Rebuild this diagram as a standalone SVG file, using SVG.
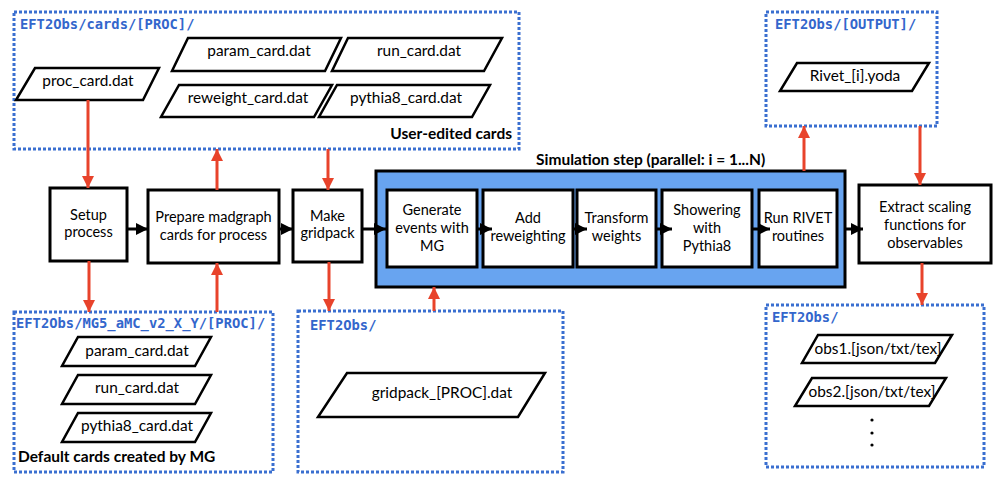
<svg xmlns="http://www.w3.org/2000/svg" width="999" height="477" viewBox="0 0 999 477">
<defs>
<style>
.dir{fill:none;stroke:#3a6fd0;stroke-width:3;stroke-dasharray:3 2}
.lbl{font-family:"DejaVu Sans Mono","Liberation Mono",monospace;font-weight:bold;font-size:13.8px;fill:#3366cc}
.box{fill:#fff;stroke:#000;stroke-width:3}
.card{fill:#fff;stroke:#000;stroke-width:2.5;stroke-linejoin:miter}
.t{font-family:Lato,"Open Sans",sans-serif;font-size:14.5px;fill:#000;text-anchor:middle}
.ct{font-family:Lato,"Open Sans",sans-serif;font-size:15.4px;fill:#000;text-anchor:middle}
.b{font-family:Lato,"Open Sans",sans-serif;font-weight:bold;font-size:15.5px;fill:#000}
.red{fill:none;stroke:#e8432b;stroke-width:3;marker-end:url(#ra)}
.blk{fill:none;stroke:#000;stroke-width:3;marker-end:url(#ba)}
</style>
<marker id="ra" markerUnits="userSpaceOnUse" markerWidth="12" markerHeight="12" refX="12" refY="6" orient="auto"><path d="M0,0 L12,6 L0,12 Z" fill="#e8432b"/></marker>
<marker id="ba" markerUnits="userSpaceOnUse" markerWidth="12" markerHeight="12" refX="12" refY="6" orient="auto"><path d="M0,0 L12,6 L0,12 Z" fill="#000"/></marker>
</defs>
<rect width="999" height="477" fill="#fff"/>

<g id="user-cards">
<rect class="dir" x="14" y="12" width="505" height="137"/>
<text class="lbl" x="20" y="29">EFT2Obs/cards/[PROC]/</text>
<polygon class="card" points="35,68 159,68 143,100 16,100"/>
<text class="ct" x="88" y="86">proc_card.dat</text>
<polygon class="card" points="188,38 341,38 325,71 172,71"/>
<text class="ct" x="259" y="56">param_card.dat</text>
<polygon class="card" points="348,38 502,38 484,71 332,71"/>
<text class="ct" x="419" y="56">run_card.dat</text>
<polygon class="card" points="179,85 332,85 314,117 161,117"/>
<text class="ct" x="248" y="103">reweight_card.dat</text>
<polygon class="card" points="337,85 490,85 472,117 319,117"/>
<text class="ct" x="406" y="103">pythia8_card.dat</text>
<text class="b" x="512" y="139" text-anchor="end">User-edited cards</text>
</g>

<g id="output-dir">
<rect class="dir" x="766" y="12" width="171" height="114"/>
<text class="lbl" x="775" y="29">EFT2Obs/[OUTPUT]/</text>
<polygon class="card" points="797,63 929,63 912,91 780,91"/>
<text class="ct" x="855" y="81" font-size="15">Rivet_[i].yoda</text>
</g>

<g id="default-cards">
<rect class="dir" x="14" y="312" width="259" height="160"/>
<text class="lbl" x="16" y="328">EFT2Obs/MG5_aMC_v2_X_Y/[PROC]/</text>
<polygon class="card" points="78,337 211,337 195,366 62,366"/>
<text class="ct" x="137" y="356" font-size="14">param_card.dat</text>
<polygon class="card" points="78,375 211,375 195,404 62,404"/>
<text class="ct" x="137" y="393" font-size="14">run_card.dat</text>
<polygon class="card" points="78,413 211,413 195,442 62,442"/>
<text class="ct" x="137" y="431" font-size="14">pythia8_card.dat</text>
<text class="b" x="18" y="462">Default cards created by MG</text>
</g>

<g id="gridpack-dir">
<rect class="dir" x="298" y="311" width="265" height="161"/>
<text class="lbl" x="310" y="330">EFT2Obs/</text>
<polygon class="card" points="347,373 545,373 518,417 318,417"/>
<text class="ct" x="442" y="398" font-size="16.3">gridpack_[PROC].dat</text>
</g>

<g id="obs-dir">
<rect class="dir" x="766" y="305" width="218" height="162"/>
<text class="lbl" x="772" y="322">EFT2Obs/</text>
<polygon class="card" points="818,335 952,335 935,363 802,363"/>
<text class="ct" x="878" y="354" font-size="11.8">obs1.[json/txt/tex]</text>
<polygon class="card" points="812,378 946,378 929,406 795,406"/>
<text class="ct" x="872" y="397" font-size="11.8">obs2.[json/txt/tex]</text>
<circle cx="872" cy="420" r="1.6"/>
<circle cx="872" cy="433" r="1.6"/>
<circle cx="872" cy="445" r="1.6"/>
</g>

<g id="setup">
<rect class="box" x="50" y="188" width="77" height="73"/>
<text class="t" x="88.5" y="220">Setup</text>
<text class="t" x="88.5" y="237">process</text>
</g>
<g id="prepare">
<rect class="box" x="148" y="190" width="131" height="73"/>
<text class="t" x="213.5" y="222">Prepare madgraph</text>
<text class="t" x="213.5" y="240">cards for process</text>
</g>
<g id="gridpack">
<rect class="box" x="293" y="190" width="69" height="72"/>
<text class="t" x="327.5" y="221">Make</text>
<text class="t" x="327.5" y="238">gridpack</text>
</g>

<g id="simulation">
<rect x="376" y="171" width="469" height="116" fill="#68a4f0" stroke="#000" stroke-width="3"/>
<text class="b" x="536" y="165" font-size="15">Simulation step (parallel: i = 1...N)</text>
</g>
<g id="generate">
<rect class="box" x="387" y="190" width="90" height="77"/>
<text class="t" x="432" y="215">Generate</text>
<text class="t" x="432" y="233">events with</text>
<text class="t" x="432" y="251">MG</text>
</g>
<g id="reweight">
<rect class="box" x="483" y="190" width="90" height="77"/>
<text class="t" x="528" y="223">Add</text>
<text class="t" x="528" y="241">reweighting</text>
</g>
<g id="transform">
<rect class="box" x="577" y="190" width="79" height="77"/>
<text class="t" x="616.5" y="223">Transform</text>
<text class="t" x="616.5" y="241">weights</text>
</g>
<g id="shower">
<rect class="box" x="662" y="190" width="90" height="77"/>
<text class="t" x="707" y="215">Showering</text>
<text class="t" x="707" y="233">with</text>
<text class="t" x="707" y="251">Pythia8</text>
</g>
<g id="rivet">
<rect class="box" x="759" y="190" width="78" height="77"/>
<text class="t" x="798" y="223">Run RIVET</text>
<text class="t" x="798" y="241">routines</text>
</g>
<g id="extract">
<rect class="box" x="859" y="185" width="132" height="78"/>
<text class="t" x="925" y="212">Extract scaling</text>
<text class="t" x="925" y="230">functions for</text>
<text class="t" x="925" y="248">observables</text>
</g>

<g id="connectors">
<path class="blk" d="M127,229 H148"/>
<path class="blk" d="M279,229 H293"/>
<path class="blk" d="M362,229 H386"/>
<path class="blk" d="M477,229 H492"/>
<path class="blk" d="M573,229 H587"/>
<path class="blk" d="M656,229 H672"/>
<path class="blk" d="M752,229 H770"/>
<path class="blk" d="M845,229 H863"/>
<path class="red" d="M88,100 V188"/>
<path class="red" d="M217,190 V149"/>
<path class="red" d="M328,149 V190"/>
<path class="red" d="M89,261 V312"/>
<path class="red" d="M217,312 V263"/>
<path class="red" d="M329,262 V311"/>
<path class="red" d="M434,311 V287"/>
<path class="red" d="M804,171 V126"/>
<path class="red" d="M920,126 V185"/>
<path class="red" d="M922,263 V305"/>
</g>
</svg>
